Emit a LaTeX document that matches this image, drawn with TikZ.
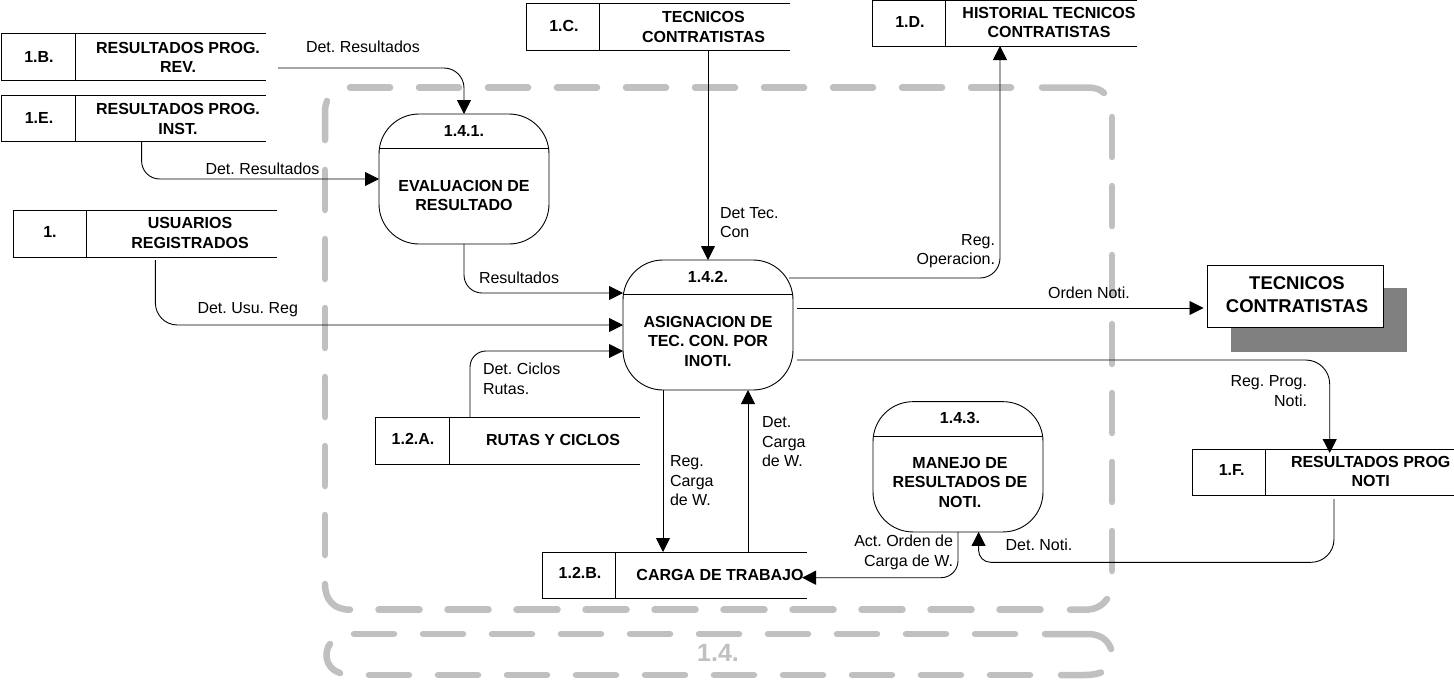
\documentclass[tikz,border=0pt]{standalone}
\usepackage{fontspec}
\setmainfont{Liberation Sans}
\usetikzlibrary{arrows.meta,calc}
\definecolor{framegray}{HTML}{C0C0C0}
\definecolor{shadowgray}{HTML}{808080}
\frenchspacing
\tikzset{
  x=1pt,y=-1pt,
  dashseg/.style={framegray,line width=6.5pt,line cap=round},
  flow/.style={black,line width=0.9pt,-{Triangle[length=14pt,width=14pt]}},
  plainbox/.style={inner sep=0pt,outer sep=0pt,minimum width=0pt,minimum height=0pt},
  lbl/.style={inner sep=0pt,outer sep=0pt,font=\fontsize{16}{19.5}\selectfont\frenchspacing},
  lblL/.style={lbl,align=left,anchor=west},
  lblR/.style={lbl,align=right,anchor=east},
  ttl/.style={inner sep=0pt,outer sep=0pt,align=center,font=\fontsize{16}{19.5}\selectfont\bfseries\frenchspacing},
  proc/.style={draw=black,line width=0.9pt,rounded corners=40pt,fill=none,inner sep=0pt,outer sep=0pt,minimum width=170pt},
  edgeline/.style={black,line width=0.9pt},
}
% name, x1, y1, x2, y2, divider x, id x, id y, id
\newcommand{\storebox}[9]{%
  \node[plainbox,minimum width={(#4-#2)*1pt},minimum height={(#5-#3)*1pt}] (#1) at ({(#2+#4)/2},{(#3+#5)/2}) {};
  \draw[edgeline] (#1.north east) -- (#1.north west) -- (#1.south west) -- (#1.south east);
  \draw[edgeline] (#6,#3) -- (#6,#5);
  \node[ttl] (#1-id) at (#7,#8) {#9};
}
\begin{document}
\begin{tikzpicture}
\useasboundingbox (0,0) rectangle (1454,683);
% dashed frame 1
\foreach \k in {0,...,9} \draw[dashseg] ({350+69*\k},87.5) -- ({390+69*\k},87.5);
\draw[dashseg] (1042,87.5) -- (1086,87.5) .. controls (1095,87.5) and (1100,89) .. (1104,93);
\foreach \k in {0,...,6} \draw[dashseg] (1112,{117+69*\k}) -- (1112,{157+69*\k});
\draw[dashseg] (1070,609.7) -- (1085,609.7) .. controls (1096,609.7) and (1103,605) .. (1107,599);
\foreach \k in {0,...,9} \draw[dashseg] ({378.5+69*\k},609.7) -- ({419.5+69*\k},609.7);
\draw[dashseg] (325,584) .. controls (325,600) and (334,609.7) .. (350,609.7);
\foreach \k in {1,...,6} \draw[dashseg] (325,{101+69*\k}) -- (325,{141+69*\k});
\draw[dashseg] (325,140) -- (325,112) .. controls (325,107) and (326,104) .. (327,101);
% dashed frame 2
\foreach \k in {0,...,9} \draw[dashseg] ({354+69*\k},634) -- ({394+69*\k},634);
\draw[dashseg] (1045,634) -- (1088,634) .. controls (1100,634) and (1108,640) .. (1111,649);
\draw[dashseg] (330,644) .. controls (325,650) and (323,667) .. (340,673);
\foreach \k in {0,...,9} \draw[dashseg] ({369+69*\k},675) -- ({409+69*\k},675);
\draw[dashseg] (1061,675) -- (1085,675) .. controls (1092,675) and (1097,674) .. (1101,672.5);
\node[inner sep=0pt,text=framegray,font=\fontsize{25}{28}\selectfont\bfseries] (framelabel) at (718,653) {1.4.};

% external entity
\node[plainbox,fill=shadowgray,minimum width=176pt,minimum height=64pt] (tcshadow) at (1319,320) {};
\node[draw=black,fill=white,line width=0.9pt,inner sep=0pt,outer sep=0pt,minimum width=176pt,minimum height=62pt] (tc) at (1295,296) {};
\node[inner sep=0pt,align=center,font=\fontsize{18.5}{23}\selectfont\bfseries] (tctext) at (1297,295) {TECNICOS\\CONTRATISTAS};

% stores
\storebox{sB}{1}{33.5}{266}{80}{75}{39}{57}{1.B.}
\node[ttl] (sBt) at (178,57.5) {RESULTADOS PROG.\\REV.};
\storebox{sE}{1}{95.5}{266}{141}{75}{39}{118}{1.E.}
\node[ttl] (sEt) at (178,119) {RESULTADOS PROG.\\INST.};
\storebox{sU}{13}{210}{277}{257}{86}{50}{232}{1.}
\node[ttl] (sUt) at (190,233) {USUARIOS\\REGISTRADOS};
\storebox{sC}{526}{3.5}{790}{50}{599}{564}{26}{1.C.}
\node[ttl] (sCt) at (703.5,27) {TECNICOS\\CONTRATISTAS};
\storebox{sD}{872}{0.5}{1136.5}{46}{945}{910}{22}{1.D.}
\node[ttl] (sDt) at (1049,22.5) {HISTORIAL TECNICOS\\CONTRATISTAS};
\storebox{sA}{375.5}{417}{640}{464}{449.5}{413}{439}{1.2.A.}
\node[ttl] (sAt) at (553,440) {RUTAS Y CICLOS};
\storebox{sW}{542}{552}{807}{598.7}{615}{580}{573}{1.2.B.}
\node[ttl] (sWt) at (720,574.5) {CARGA DE TRABAJO};
\storebox{sF}{1192}{449}{1454}{495.7}{1265.7}{1231.7}{470}{1.F.}
\node[ttl] (sFt) at (1370.7,471.5) {RESULTADOS PROG\\NOTI};

% processes
\node[proc,minimum height=130pt] (p1) at (464,179) {};
\draw[edgeline] (p1.west |- 0,148) -- (p1.east |- 0,148);
\node[ttl] (p1n) at (464,131) {1.4.1.};
\node[ttl] (p1t) at (464,195.5) {EVALUACION DE\\RESULTADO};
\node[proc,minimum height=130pt] (p2) at (708,325) {};
\draw[edgeline] (p2.west |- 0,294) -- (p2.east |- 0,294);
\node[ttl] (p2n) at (708,277) {1.4.2.};
\node[ttl] (p2t) at (708,341) {ASIGNACION DE\\TEC. CON. POR\\INOTI.};
\node[proc,minimum height=130.3pt] (p3) at (958,466.8) {};
\draw[edgeline] (p3.west |- 0,436) -- (p3.east |- 0,436);
\node[ttl] (p3n) at (960,418) {1.4.3.};
\node[ttl] (p3t) at (960,482) {MANEJO DE\\RESULTADOS DE\\NOTI.};

% connectors
\coordinate (fB) at (278,68);
\draw[flow,rounded corners=20pt] (fB) -- (fB -| p1.north) -- (p1.north);
\draw[flow,rounded corners=18pt] (141.6,0 |- sE.south) -- (141.6,179) -- (p1.west |- 0,179);
\coordinate (fU) at (155.4,260);
\draw[flow,rounded corners=22pt] (fU) -- (155.4,325) -- (p2.west |- 0,325);
\draw[flow,rounded corners=18pt] (p1.south) -- (464,293) -- (p2.west |- 0,293);
\draw[flow,rounded corners=16pt] (470,0 |- sA.north) -- (470,351) -- (p2.west |- 0,351);
\draw[flow] (sC.south -| p2.north) -- (p2.north);
\coordinate (fR) at (789,278);
\draw[flow,rounded corners=20pt] (fR) -- (1000,278) -- (1000,0 |- sD.south);
\coordinate (fO) at (797,308);
\draw[flow,shorten >=3.5pt] (fO) -- (tc.west |- fO);
\coordinate (fP) at (797,360);
\draw[flow,rounded corners=24pt,shorten >=-4pt] (fP) -- (1329.7,360) -- (1329.7,0 |- sF.north);
\draw[flow] (663,0 |- p2.south) -- (663,0 |- sW.north);
\draw[flow] (748,0 |- sW.north) -- (748,0 |- p2.south);
\coordinate (fN) at (1334,499);
\draw[flow] (fN) [rounded corners=23pt] -- (1334,562.3) [rounded corners=12pt] -- (978.6,562.3) [sharp corners] -- (978.6,0 |- p3.south);
\draw[flow,rounded corners=17pt,shorten >=-5pt] (p3.south) -- (958,577.7) -- (sW.east |- 0,577.7);

% connector labels
\node[lblL] (l1) at (306,47) {Det. Resultados};
\node[lblL] (l2) at (205.5,169) {Det. Resultados};
\node[lblL] (l3) at (197.5,310) {Det. Usu. Reg};
\node[lblL] (l4) at (479,278) {Resultados};
\node[lblL] (l5) at (483,379) {Det. Ciclos\\Rutas.};
\node[lblL] (l6) at (720,222.5) {Det Tec.\\Con};
\node[lblR] (l7) at (995,251) {Reg.\\Operacion.};
\node[lbl] (l8) at (1089,293) {Orden Noti.};
\node[lblR] (l9) at (1307,391) {Reg. Prog.\\Noti.};
\node[lblL] (l10) at (670,481) {Reg.\\Carga\\de W.};
\node[lblL] (l11) at (762,442) {Det.\\Carga\\de W.};
\node[lblR] (l12) at (953,552.5) {Act. Orden de\\Carga de W.};
\node[lblL] (l13) at (1005.6,545) {Det. Noti.};
\end{tikzpicture}
\end{document}
